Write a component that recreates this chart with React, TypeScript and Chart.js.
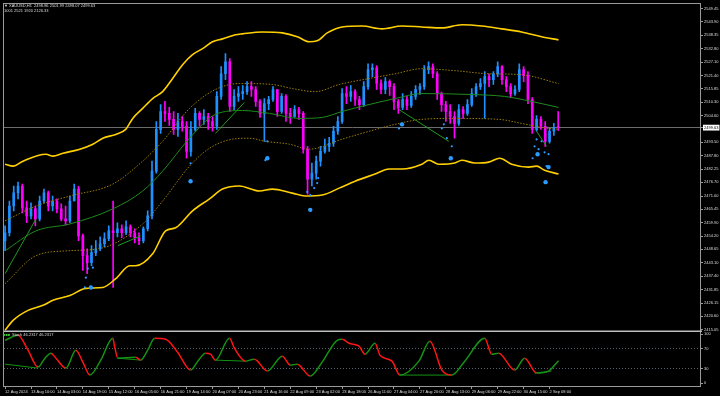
import React, { useEffect, useRef } from "react";
import { Chart, registerables } from "chart.js";

Chart.register(...registerables);

const FONT = "Liberation Sans";
const TEXT = "#dcdcdc";
const AXIS = "#9a9a9a";
const UP = "#1e90ff";
const DOWN = "#ff00ff";
const BAND = "#ffd000";
const INNER = "#9c7c08";
const MID = "#1d8a1d";
const TREND = "#1f9a1f";
const DOT = "#2a9bff";
const OSC_UP = "#139313";
const OSC_DOWN = "#ff1414";

const symbolLine = "XAUUSD,H1  2498.86 2501.99 2498.07 2499.63";
const infoLine = "1001 2521 1920 2126.33";
const oscLabel = "Stoch 46.2317 46.2317";

const timeLabels = [
  "12 Aug 2024", "13 Aug 10:00", "14 Aug 03:00", "14 Aug 19:00", "15 Aug 12:00",
  "16 Aug 05:00", "16 Aug 21:00", "19 Aug 14:00", "20 Aug 07:00", "20 Aug 23:00",
  "21 Aug 16:00", "22 Aug 09:00", "23 Aug 02:00", "23 Aug 18:00", "26 Aug 11:00",
  "27 Aug 04:00", "27 Aug 20:00", "28 Aug 13:00", "29 Aug 06:00", "29 Aug 22:00",
  "30 Aug 15:00", "2 Sep 08:00",
];
const barsPerLabel = 6;

const priceTicks = [
  2549.45, 2543.9, 2538.35, 2532.8, 2527.1, 2521.4, 2515.85, 2510.3, 2504.6,
  2493.5, 2487.8, 2482.25, 2476.7, 2471.0, 2465.45, 2459.9, 2454.2, 2448.65,
  2443.1, 2437.4, 2431.85, 2426.15, 2420.6, 2415.05,
];
const currentPrice = 2499.63;
const oscTicks = [0, 30, 70, 100];
const oscLevels = [30, 70];

const firstOpen = 2452.3;
const closes = [
  2455.6, 2466.8, 2472.3, 2475.2, 2466.0, 2462.7, 2465.6, 2461.4, 2468.9, 2472.3,
  2466.8, 2468.9, 2465.6, 2461.4, 2460.6, 2468.9, 2473.9, 2454.3, 2446.0, 2443.1,
  2447.3, 2448.9, 2451.0, 2453.1, 2456.4, 2455.6, 2457.3, 2455.6, 2458.1, 2455.6,
  2453.5, 2452.3, 2457.3, 2462.7, 2481.4, 2498.9, 2506.4, 2505.6, 2503.1, 2498.9,
  2502.2, 2500.2, 2489.7, 2498.9, 2505.6, 2503.1, 2504.3, 2502.2, 2500.2, 2512.7,
  2522.2, 2527.2, 2508.5, 2512.7, 2513.9, 2514.7, 2516.8, 2515.6, 2510.6, 2505.6,
  2509.7, 2511.4, 2515.6, 2506.4, 2512.7, 2505.6, 2504.3, 2507.2, 2505.6, 2490.6,
  2478.1, 2480.6, 2485.6, 2489.7, 2491.8, 2493.1, 2498.1, 2502.2, 2513.9, 2512.7,
  2514.7, 2511.4, 2509.3, 2516.8, 2523.9, 2524.7, 2518.1, 2515.6, 2518.9, 2516.8,
  2510.6, 2508.1, 2511.4, 2508.9, 2512.7, 2515.6, 2516.8, 2523.9, 2525.2, 2522.2,
  2513.9, 2509.3, 2506.4, 2504.3, 2501.4, 2507.2, 2505.6, 2509.3, 2513.9, 2516.8,
  2518.1, 2521.0, 2519.7, 2522.2, 2525.2, 2519.7, 2516.8, 2513.9, 2515.6, 2523.9,
  2521.4, 2511.4, 2498.9, 2503.1, 2500.2, 2493.9, 2498.1, 2499.8, 2499.63,
];
const highs = [
  2458.5, 2468.9, 2475.2, 2476.8, 2476.0, 2468.9, 2468.1, 2466.8, 2471.0, 2473.9,
  2473.1, 2471.0, 2469.8, 2467.7, 2466.8, 2471.0, 2476.0, 2475.0, 2455.0, 2448.9,
  2450.2, 2452.3, 2453.9, 2455.6, 2458.5, 2468.9, 2459.8, 2458.9, 2460.6, 2458.9,
  2457.3, 2455.6, 2458.1, 2464.8, 2485.6, 2502.2, 2509.3, 2510.6, 2508.1, 2506.4,
  2505.6, 2504.3, 2502.2, 2502.2, 2507.7, 2506.4, 2507.2, 2505.6, 2504.3, 2514.7,
  2525.2, 2530.6, 2528.5, 2515.6, 2516.8, 2517.2, 2518.9, 2518.9, 2516.8, 2511.4,
  2511.8, 2512.7, 2516.8, 2515.6, 2513.9, 2513.5, 2507.7, 2508.9, 2508.1, 2506.4,
  2491.8, 2484.8, 2487.7, 2491.8, 2494.8, 2495.6, 2500.2, 2504.3, 2516.0, 2516.8,
  2517.2, 2515.6, 2512.7, 2518.9, 2526.4, 2526.4, 2525.6, 2519.7, 2520.6, 2519.7,
  2518.1, 2511.4, 2513.9, 2512.7, 2514.7, 2517.2, 2518.1, 2525.6, 2527.2, 2526.4,
  2523.1, 2514.5, 2510.6, 2509.3, 2506.4, 2509.3, 2508.5, 2511.4, 2516.0, 2518.1,
  2520.2, 2523.1, 2522.2, 2523.1, 2527.2, 2525.6, 2521.0, 2518.1, 2517.2, 2526.4,
  2525.2, 2523.1, 2512.2, 2504.7, 2504.3, 2502.2, 2499.3, 2501.4, 2506.4,
];
const lows = [
  2448.1, 2454.3, 2464.8, 2469.8, 2463.9, 2459.8, 2461.4, 2458.5, 2460.6, 2468.1,
  2464.8, 2464.8, 2463.9, 2460.6, 2458.9, 2459.8, 2468.9, 2452.3, 2439.8, 2438.5,
  2441.8, 2446.0, 2448.1, 2449.8, 2452.3, 2432.7, 2453.9, 2453.5, 2454.8, 2453.9,
  2451.4, 2450.6, 2451.4, 2456.4, 2461.4, 2480.6, 2497.2, 2502.2, 2500.6, 2496.8,
  2496.0, 2498.1, 2486.8, 2487.7, 2498.1, 2500.2, 2501.0, 2498.9, 2498.1, 2498.9,
  2511.4, 2519.7, 2506.4, 2507.2, 2510.6, 2511.4, 2513.5, 2512.7, 2508.5, 2503.9,
  2493.9, 2507.2, 2510.6, 2504.3, 2505.6, 2502.2, 2501.4, 2503.9, 2503.1, 2488.9,
  2471.8, 2475.2, 2478.1, 2483.5, 2488.9, 2489.7, 2491.8, 2496.8, 2501.4, 2509.7,
  2510.6, 2508.9, 2507.2, 2508.5, 2515.6, 2521.0, 2515.6, 2513.9, 2513.9, 2513.1,
  2507.2, 2505.6, 2507.2, 2507.2, 2508.1, 2511.4, 2513.5, 2515.6, 2522.2, 2520.6,
  2511.4, 2506.4, 2502.2, 2501.4, 2495.2, 2500.6, 2503.5, 2504.7, 2508.5, 2512.7,
  2515.6, 2503.5, 2516.8, 2517.7, 2521.0, 2517.7, 2514.7, 2512.2, 2513.1, 2514.7,
  2518.9, 2509.7, 2497.2, 2498.1, 2498.9, 2491.8, 2493.1, 2496.4, 2498.5,
];

// envelope lines, x in bar slots
const upperBandX = [0, 1.85, 4.15, 9.46, 11.08, 13.38, 17.31, 20.31, 22.62, 25.62, 27.92, 29.54, 31.85, 34.15, 36.46, 38.77, 41.08, 43.38, 45.69, 48, 50.31, 53.31, 54.92, 59.54, 64.15, 67.62, 70.38, 72.23, 74.54, 78, 82.62, 87.23, 91.85, 96.46, 101.08, 105.69, 110.31, 114.92, 119.54, 124.15, 128.08];
const upperBandY = [2484.3, 2483.5, 2485.6, 2488.5, 2487.7, 2488.9, 2490.6, 2492.7, 2495.2, 2496.8, 2498.9, 2503.5, 2507.7, 2511.8, 2514.7, 2520.2, 2526.0, 2530.2, 2532.7, 2535.6, 2536.8, 2538.5, 2538.9, 2539.7, 2539.3, 2537.7, 2535.6, 2536.0, 2539.3, 2541.8, 2542.2, 2541.0, 2542.2, 2541.8, 2541.4, 2542.7, 2542.2, 2541.0, 2539.7, 2537.7, 2536.4];
const lowerBandX = [0, 1.85, 5.31, 8.77, 11.08, 15, 18.69, 22.62, 25.62, 28.85, 30.23, 34.15, 37.15, 39.46, 43.38, 47.31, 50.31, 54.23, 58.85, 61.85, 66.46, 69.46, 73.38, 77.31, 81, 85.62, 88.85, 91.85, 96.46, 98.08, 100.38, 104.08, 105.69, 108.69, 111.92, 114.46, 117.23, 121.15, 123, 124.85, 128.08];
const lowerBandY = [2414.8, 2418.9, 2423.1, 2425.2, 2427.3, 2429.3, 2432.3, 2432.7, 2436.4, 2441.8, 2441.8, 2446.8, 2456.4, 2457.7, 2464.8, 2469.8, 2473.9, 2475.2, 2473.1, 2473.9, 2472.2, 2471.0, 2471.4, 2474.3, 2477.2, 2480.2, 2482.3, 2482.3, 2484.3, 2486.0, 2484.3, 2484.8, 2486.0, 2484.8, 2485.2, 2486.8, 2484.3, 2483.1, 2483.5, 2481.8, 2480.2];
const midX = [0, 7.15, 15, 24.92, 31.85, 36.46, 42.69, 48.69, 54.92, 61.15, 68.08, 73.38, 78, 84.23, 90.23, 96.46, 108, 115.62, 121.85, 128.08];
const midY = [2448.1, 2456.4, 2459.3, 2465.6, 2473.1, 2481.4, 2495.2, 2505.2, 2506.8, 2505.6, 2503.5, 2503.9, 2506.4, 2509.3, 2511.8, 2513.9, 2513.5, 2512.7, 2510.6, 2508.1];
const innerUpX = [0, 7.15, 15, 24.92, 31.85, 36.46, 42.69, 48.69, 54.23, 61.85, 66.46, 71.77, 77.31, 84.23, 90.23, 96.46, 104.08, 111.92, 119.54, 128.08];
const innerUpY = [2460.6, 2466.8, 2471.0, 2476.0, 2485.6, 2493.9, 2507.7, 2515.6, 2518.1, 2517.7, 2516.0, 2514.7, 2517.7, 2520.2, 2522.2, 2524.3, 2523.5, 2522.2, 2521.8, 2518.1];
const innerLowX = [0, 7.15, 15, 22.62, 31.85, 36.46, 42.69, 47.31, 52.62, 56.54, 60.23, 65.77, 70.38, 78, 84.23, 90.23, 96.46, 104.08, 114.23, 119.54, 124.15, 128.08];
const innerLowY = [2434.3, 2446.0, 2448.1, 2449.3, 2459.3, 2468.9, 2483.5, 2491.0, 2494.8, 2495.2, 2493.9, 2492.7, 2490.6, 2494.8, 2498.1, 2501.0, 2503.1, 2503.5, 2503.1, 2501.4, 2499.7, 2498.9];

// trend segments on price pane
const trendStartX = [0, 26.08, 48.69, 91.15, 123];
const trendStartY = [2438.5, 2450.2, 2497.2, 2507.2, 2498.1];
const trendEndX = [7.15, 31.38, 55.38, 102.69, 125.31];
const trendEndY = [2461.4, 2454.3, 2510.2, 2493.9, 2491.8];

// signal dots
const dotX = [18.46, 19.85, 18.69, 19.15, 20.31, 42.92, 42.92, 60.69, 60.69, 60.23, 69.92, 70.62, 71.54, 72.23, 72.46, 70.62, 91.85, 91.15, 101.54, 101.08, 102.23, 103.38, 103.15, 122.08, 122.54, 123, 123.23, 123.46, 124.15, 124.85, 125.77, 125.31, 125.77, 125.08];
const dotY = [2432.7, 2432.7, 2436.8, 2440.6, 2441.0, 2484.7, 2477.2, 2493.9, 2486.8, 2486.0, 2472.7, 2471.4, 2474.3, 2476.4, 2478.5, 2465.2, 2501.0, 2499.3, 2501.0, 2499.3, 2495.2, 2491.8, 2486.8, 2486.8, 2491.8, 2494.7, 2488.5, 2490.6, 2493.9, 2489.3, 2488.5, 2483.5, 2483.1, 2476.8];
const dotBig = [0, 1, 0, 0, 0, 0, 1, 0, 1, 0, 0, 0, 0, 0, 0, 1, 1, 0, 0, 0, 0, 0, 1, 0, 0, 0, 1, 0, 0, 0, 0, 0, 1, 1];

// oscillator pane
const oscX = [0, 3, 5.31, 7.62, 9.23, 10.62, 11.77, 14.08, 16.38, 18, 19.62, 22.15, 24.92, 25.38, 26.08, 30.23, 31.38, 33, 34.62, 37.15, 39.92, 42.92, 44.77, 46.38, 47.54, 48.69, 51.92, 53.08, 55.62, 57.69, 60.69, 64.15, 66, 67.62, 70.62, 73.38, 76.85, 78, 79.62, 81.92, 83.31, 85.62, 86.77, 89.54, 91.38, 95.77, 98.31, 101.08, 103.38, 106.38, 111, 112.62, 114.23, 117.92, 120.23, 123, 125.77, 128.08];
const oscY = [87.8, 98.0, 67.5, 33.1, 51.3, 61.5, 51.3, 31.0, 67.5, 43.2, 16.8, 47.3, 91.9, 73.6, 51.3, 53.3, 47.3, 67.5, 91.9, 89.9, 63.5, 27.0, 47.3, 61.5, 59.4, 47.3, 91.9, 71.6, 45.2, 49.3, 25.0, 55.4, 37.1, 39.1, 14.8, 43.2, 87.8, 89.9, 81.7, 75.7, 59.4, 81.7, 57.4, 45.2, 16.8, 45.2, 85.8, 27.0, 16.8, 45.2, 91.9, 59.4, 61.5, 27.0, 51.3, 20.9, 25.0, 46.2];
const oscTrendStartX = [0, 26.08, 48.69, 91.38, 122.54];
const oscTrendStartY = [39.1, 51.3, 47.3, 16.8, 20.9];
const oscTrendEndX = [7.62, 31.38, 55.62, 103.38, 126.46];
const oscTrendEndY = [31.0, 47.3, 45.2, 16.8, 25.0];

const pts = (xs: number[], ys: number[]) => xs.map((x, i) => ({ x, y: ys[i] }));

function lineSet(xs: number[], ys: number[], color: string, width: number, dash: number[] = [], axis = "y") {
  return {
    type: "line" as const,
    data: pts(xs, ys),
    borderColor: color,
    borderWidth: width,
    borderDash: dash,
    pointRadius: 0,
    cubicInterpolationMode: "monotone" as const,
    fill: false,
    xAxisID: "x",
    yAxisID: axis,
    order: 2,
  };
}

const framePlugin = {
  id: "mtFrame",
  beforeDraw(chart: any) {
    const { ctx, width, height } = chart;
    ctx.save();
    ctx.fillStyle = "#000";
    ctx.fillRect(0, 0, width, height);
    ctx.restore();
  },
  afterDraw(chart: any) {
    const { ctx, chartArea: a, scales } = chart;
    ctx.save();
    ctx.strokeStyle = AXIS;
    ctx.lineWidth = 1;
    ctx.strokeRect(a.left - 0.5, a.top - 0.5, a.right - a.left, a.bottom - a.top);
    const sep = scales.y.bottom;
    ctx.strokeStyle = "#bdbdbd";
    ctx.lineWidth = 1.5;
    ctx.beginPath();
    ctx.moveTo(a.left, sep);
    ctx.lineTo(a.right + 1, sep);
    ctx.stroke();

    ctx.fillStyle = TEXT;
    ctx.textBaseline = "middle";
    ctx.font = `4px "${FONT}"`;
    ctx.fillText("\u25BC", 4, 5.5);
    ctx.fillText(symbolLine, 9, 5.5);
    ctx.fillText(infoLine, 4, 11);
    ctx.fillStyle = "#3cc63c";
    ctx.fillText("\u25A0\u25A0\u25A0", 3, sep + 4);
    ctx.fillStyle = TEXT;
    ctx.fillText(oscLabel, 12, sep + 4);
    ctx.restore();
  },
};

export default function App() {
  const ref = useRef<HTMLCanvasElement | null>(null);

  useEffect(() => {
    const canvas = ref.current;
    if (!canvas) return;
    const idx = closes.map((_, i) => i);
    const opens = closes.map((_, i) => (i === 0 ? firstOpen : closes[i - 1]));
    const colors = closes.map((c, i) => (c >= opens[i] ? UP : DOWN));

    const datasets: any[] = [
      {
        type: "bar",
        data: idx.map((i) => ({ x: i, y: [lows[i], highs[i]] })),
        backgroundColor: colors,
        barThickness: 1,
        grouped: false,
        xAxisID: "x",
        yAxisID: "y",
        order: 6,
      },
      {
        type: "bar",
        data: idx.map((i) => ({ x: i, y: [opens[i], closes[i]] })),
        backgroundColor: colors,
        barThickness: 2,
        minBarLength: 1,
        grouped: false,
        xAxisID: "x",
        yAxisID: "y",
        order: 5,
      },
      lineSet(upperBandX, upperBandY, BAND, 1.6),
      lineSet(lowerBandX, lowerBandY, BAND, 1.6),
      lineSet(innerUpX, innerUpY, INNER, 1, [1.5, 1.5]),
      lineSet(innerLowX, innerLowY, INNER, 1, [1.5, 1.5]),
      lineSet(midX, midY, MID, 1),
      ...trendStartX.map((sx, k) =>
        lineSet([sx, trendEndX[k]], [trendStartY[k], trendEndY[k]], TREND, 1)
      ),
      {
        type: "line",
        data: pts(dotX, dotY),
        showLine: false,
        pointRadius: dotBig.map((b) => (b ? 2.2 : 1.1)),
        pointBackgroundColor: DOT,
        pointBorderWidth: 0,
        xAxisID: "x",
        yAxisID: "y",
        order: 1,
      },
      ...oscTrendStartX.map((sx, k) =>
        lineSet([sx, oscTrendEndX[k]], [oscTrendStartY[k], oscTrendEndY[k]], OSC_UP, 1, [], "y2")
      ),
      {
        type: "line",
        data: pts(oscX, oscY),
        borderWidth: 1.5,
        borderColor: OSC_UP,
        segment: {
          borderColor: (c: any) => (c.p1.parsed.y >= c.p0.parsed.y ? OSC_UP : OSC_DOWN),
        },
        pointRadius: 0,
        cubicInterpolationMode: "monotone",
        fill: false,
        xAxisID: "x",
        yAxisID: "y2",
        order: 1,
      },
    ];

    const font = { family: FONT, size: 4 };

    const chart = new Chart(canvas, {
      type: "bar",
      data: { datasets },
      options: {
        responsive: false,
        animation: false,
        devicePixelRatio: 1,
        events: [],
        layout: { padding: { left: 2, top: 2, right: 0, bottom: 0 } },
        plugins: { legend: { display: false }, tooltip: { enabled: false } },
        scales: {
          x: {
            type: "linear",
            position: "bottom",
            min: -0.25,
            max: 161.05,
            offset: false,
            afterFit: (s: any) => {
              s.height = 9;
            },
            afterBuildTicks: (s: any) => {
              s.ticks = timeLabels.map((_, k) => ({ value: k * barsPerLabel }));
            },
            ticks: {
              callback: (_v: any, i: number) => timeLabels[i],
              align: "start",
              autoSkip: false,
              maxRotation: 0,
              minRotation: 0,
              padding: 0,
              color: TEXT,
              font,
            },
            grid: { offset: false, drawOnChartArea: false, drawTicks: true, tickLength: 2, tickColor: AXIS },
            border: { display: false },
          },
          y: {
            type: "linear",
            position: "right",
            stack: "panes",
            stackWeight: 329,
            min: 2414.34,
            max: 2551.41,
            afterFit: (s: any) => {
              s.width = 19;
            },
            afterBuildTicks: (s: any) => {
              s.ticks = [...priceTicks, currentPrice].sort((p, q) => p - q).map((value) => ({ value }));
            },
            ticks: {
              callback: (v: any) => Number(v).toFixed(2),
              autoSkip: false,
              padding: 1,
              font,
              color: (c: any) => (c.tick && c.tick.value === currentPrice ? "#000" : TEXT),
              showLabelBackdrop: (c: any) => !!(c.tick && c.tick.value === currentPrice),
              backdropColor: "#ffffff",
              backdropPadding: { left: 1, right: 1, top: 0.5, bottom: 0.5 },
            },
            grid: {
              color: (c: any) => (c.tick && c.tick.value === currentPrice ? "#6c6c6c" : "rgba(0,0,0,0)"),
              tickColor: AXIS,
              tickLength: 2,
              drawTicks: true,
            },
            border: { display: false },
          },
          y2: {
            type: "linear",
            position: "right",
            stack: "panes",
            stackWeight: 56,
            min: -7.5,
            max: 106.1,
            afterFit: (s: any) => {
              s.width = 19;
            },
            afterBuildTicks: (s: any) => {
              s.ticks = oscTicks.map((value) => ({ value }));
            },
            ticks: {
              callback: (v: any) => String(v),
              autoSkip: false,
              padding: 1,
              font,
              color: TEXT,
            },
            grid: {
              color: (c: any) => (c.tick && oscLevels.includes(c.tick.value) ? "#56626e" : "rgba(0,0,0,0)"),
              tickColor: AXIS,
              tickLength: 2,
              drawTicks: true,
            },
            border: { display: false, dash: [1, 2] },
          },
        },
      } as any,
      plugins: [framePlugin],
    });

    return () => chart.destroy();
  }, []);

  return (
    <div style={{ position: "fixed", left: 0, top: 0, width: 720, height: 396, background: "#000" }}>
      <canvas ref={ref} width={720} height={396} style={{ display: "block", width: 720, height: 396 }} />
    </div>
  );
}
